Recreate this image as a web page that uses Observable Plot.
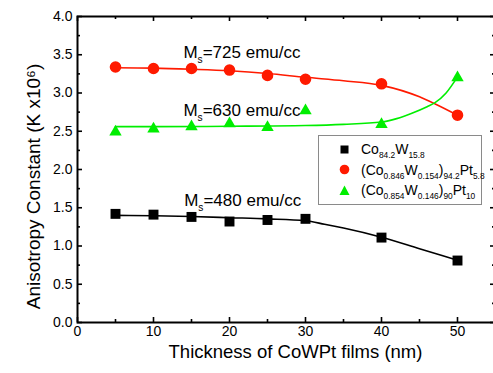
<!DOCTYPE html>
<html><head><meta charset="utf-8">
<script src="https://cdn.jsdelivr.net/npm/d3@7"></script>
<script src="https://cdn.jsdelivr.net/npm/@observablehq/plot@0.6"></script>
<style>
body{margin:0;background:#fff;font-family:"Liberation Sans",Arial,sans-serif;}
#wrap{position:relative;width:493px;height:373px;overflow:hidden;background:#fff}
#wrap svg{display:block}
.ann{position:absolute;font-size:17px;white-space:nowrap;transform:translateY(-50%);color:#000;line-height:1}
sub{font-size:0.6em;vertical-align:-0.5em;line-height:0}
#legend{position:absolute;left:318px;top:135px;width:164px;height:70px;border:1px solid #8a8a8a;background:#fff;box-sizing:border-box}
.row{position:absolute;left:0;height:20px;display:flex;align-items:center;font-size:14px;white-space:nowrap}
.row svg{margin-left:19px;margin-right:10px}
</style></head>
<body><div id="wrap"></div>
<script>
const thickness = [5, 10, 15, 20, 25, 30, 40, 50];
const kCoW  = [1.42, 1.41, 1.38, 1.32, 1.34, 1.355, 1.11, 0.81];
const kPt58 = [3.34, 3.32, 3.32, 3.30, 3.23, 3.18, 3.12, 2.71];
const kPt10 = [2.49, 2.53, 2.56, 2.60, 2.55, 2.77, 2.59, 3.20];

const fitXCoW  = [5, 10, 15, 20, 25, 30, 32.5, 35, 40, 45, 50];
const fitCoW   = [1.40, 1.395, 1.385, 1.37, 1.355, 1.33, 1.285, 1.235, 1.115, 0.965, 0.815];
const fitXPt58 = [5, 10, 15, 20, 25, 30, 35, 40, 45, 47, 50];
const fitPt58  = [3.33, 3.325, 3.31, 3.29, 3.255, 3.205, 3.16, 3.10, 2.95, 2.86, 2.71];
const fitXPt10 = [5, 10, 20, 30, 35, 40, 42, 44, 46, 47, 48.5, 50];
const fitPt10  = [2.56, 2.56, 2.565, 2.575, 2.59, 2.62, 2.665, 2.735, 2.82, 2.87, 3.00, 3.21];

const xTickLabels = [0, 10, 20, 30, 40, 50];
const xMinorTicks = [5, 15, 25, 35, 45];
const yTickLabels = [0, 0.5, 1.0, 1.5, 2.0, 2.5, 3.0, 3.5, 4.0];
const yMinorTicks = [0.25, 0.75, 1.25, 1.75, 2.25, 2.75, 3.25, 3.75];

const seriesNames = [
  "Co<sub>84.2</sub>W<sub>15.8</sub>",
  "(Co<sub>0.846</sub>W<sub>0.154</sub>)<sub>94.2</sub>Pt<sub>5.8</sub>",
  "(Co<sub>0.854</sub>W<sub>0.146</sub>)<sub>90</sub>Pt<sub>10</sub>"
];
const seriesColors = ["#000000", "#ff1a00", "#00ee00"];
const seriesSymbols = ["square", "circle", "triangle"];

const notes = ["M<sub>s</sub>=725 emu/cc", "M<sub>s</sub>=630 emu/cc", "M<sub>s</sub>=480 emu/cc"];
const noteX = [14, 14, 14.1];
const noteY = [3.53, 2.77, 1.59];

const xTitle = "Thickness of CoWPt films (nm)";
const yTitle = "Anisotropy Constant (K x10\u2076)";

const W = 493, H = 373, ML = 77, MR = -2, MT = 16, MB = 51;
const FW = W - ML - MR, FH = H - MT - MB;

const pts = (xs, ys) => xs.map((x, i) => ({x, y: ys[i]}));
const series = [kCoW, kPt58, kPt10].map(v => pts(thickness, v));
const fits = [pts(fitXCoW, fitCoW), pts(fitXPt58, fitPt58), pts(fitXPt10, fitPt10)];
const radii = [5.6, 5.8, 4.6];

const marks = [];
marks.push(Plot.axisX({ticks: xTickLabels, anchor: "bottom", tickSize: 0, tickPadding: 4, tickFormat: d3.format("d"), label: null, fontSize: 14}));
marks.push(Plot.axisY({ticks: yTickLabels, anchor: "left", tickSize: 0, tickPadding: 5, tickFormat: d3.format(".1f"), label: null, fontSize: 14}));
const tk = {stroke: "#000", strokeWidth: 1.6};
for (const [ticks, len] of [[xTickLabels, 5], [xMinorTicks, 3]]) {
  marks.push(Plot.tickX(ticks, {x: d => d, insetTop: FH - len, ...tk}));
  marks.push(Plot.tickX(ticks, {x: d => d, insetBottom: FH - len, ...tk}));
}
for (const [ticks, len] of [[yTickLabels, 5], [yMinorTicks, 3]]) {
  marks.push(Plot.tickY(ticks, {y: d => d, insetRight: FW - len, ...tk}));
  marks.push(Plot.tickY(ticks, {y: d => d, insetLeft: FW - len, ...tk}));
}
marks.push(Plot.frame({stroke: "#000", strokeWidth: 2}));
fits.forEach((f, i) => marks.push(Plot.line(f, {x: "x", y: "y", stroke: seriesColors[i], strokeWidth: 1.6, curve: "monotone-x"})));
series.forEach((s, i) => marks.push(Plot.dot(s, {x: "x", y: "y", symbol: () => seriesSymbols[i], fill: seriesColors[i], stroke: "none", r: radii[i]})));
marks.push(Plot.text([xTitle], {text: d => d, frameAnchor: "bottom", dy: 30, dx: 9, fontSize: 18.5, lineAnchor: "middle", textAnchor: "middle"}));
marks.push(Plot.text([yTitle], {text: d => d, frameAnchor: "left", rotate: -90, dx: -44, dy: 17, fontSize: 19, lineAnchor: "middle", textAnchor: "middle"}));

const chart = Plot.plot({
  width: W, height: H,
  marginLeft: ML, marginRight: MR, marginTop: MT, marginBottom: MB,
  style: {fontFamily: "'Liberation Sans', Arial, sans-serif", color: "#000", background: "#fff", overflow: "visible"},
  x: {domain: [0, 55]},
  y: {domain: [0, 4]},
  symbol: {type: "identity"},
  marks
});
const wrap = document.getElementById("wrap");
wrap.appendChild(chart);
const sx = chart.scale("x"), sy = chart.scale("y");
notes.forEach((t, i) => {
  const d = document.createElement("div");
  d.className = "ann";
  d.innerHTML = t;
  d.style.left = sx.apply(noteX[i]) + "px";
  d.style.top = sy.apply(noteY[i]) + "px";
  wrap.appendChild(d);
});
const lg = document.createElement("div");
lg.id = "legend";
const symPath = {
  square: '<rect x="2.5" y="2.5" width="8" height="8"/>',
  circle: '<circle cx="6.5" cy="6.5" r="4.8"/>',
  triangle: '<path d="M6.5,1.5 L11.5,11 L1.5,11 Z"/>'
};
seriesNames.forEach((n, i) => {
  const r = document.createElement("div");
  r.className = "row";
  r.style.top = (3 + i * 20.5) + "px";
  r.innerHTML = `<svg width="13" height="13" fill="${seriesColors[i]}">${symPath[seriesSymbols[i]]}</svg><span>${n}</span>`;
  lg.appendChild(r);
});
wrap.appendChild(lg);
</script></body></html>
